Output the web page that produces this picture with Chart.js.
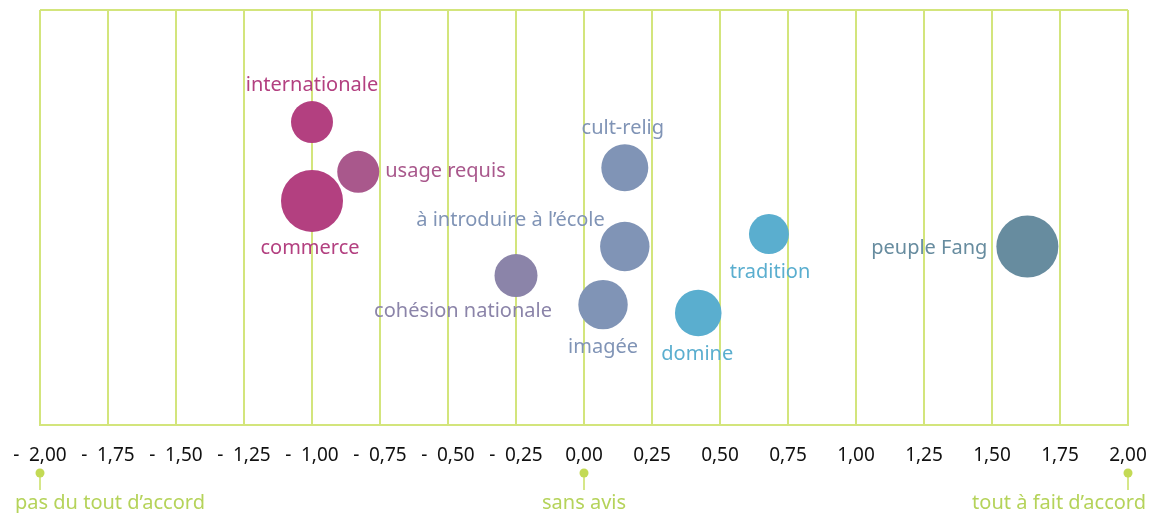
<!DOCTYPE html>
<html lang="fr">
<head>
<meta charset="utf-8">
<title>Attitudes envers la langue</title>
<script src="https://cdn.jsdelivr.net/npm/chart.js@4.4.1/dist/chart.umd.min.js"></script>
<style>
  html, body { margin: 0; padding: 0; background: #fff; }
  #wrap { width: 1159px; height: 513px; position: relative; }
</style>
</head>
<body>
<div id="wrap"><canvas id="bulles"></canvas></div>
<script>
// données
const categories = ['internationale', 'usage requis', 'commerce', 'cohésion nationale', 'cult-relig',
  'à introduire à l’école', 'imagée', 'domine', 'tradition', 'peuple Fang'];
const accord = [-1.00, -0.83, -1.00, -0.25, 0.15, 0.15, 0.07, 0.42, 0.68, 1.63];
const niveau = [73, 61, 54, 36, 62, 43, 29, 27, 46, 43];
const poids = [21, 21, 31, 21.5, 23.5, 24.7, 24.7, 23.3, 20, 31];

const reperesValeurs = [-2, 0, 2];
const reperesTextes = ['pas du tout d’accord', 'sans avis', 'tout à fait d’accord'];

// couleurs par bulle
const couleurs = ['#b34080', '#a9588c', '#b34080', '#8b84a9', '#8094b6',
  '#8094b6', '#8094b6', '#5aaecf', '#5aaecf', '#678c9f'];

// position des étiquettes par rapport au centre de la bulle : [dx, dy, alignement]
const placement = [
  [0, -37, 'center'], [27, -1, 'left'], [-2, 47, 'center'], [-53, 36, 'center'], [-2, -39, 'center'],
  [-20, -26, 'right'], [0, 43, 'center'], [-1, 41, 'center'], [1, 38, 'center'], [-40, 2, 'right']
];
const policeTexte = '"Noto Sans", sans-serif';
const vert = '#d3e57c';

function formatTick(v) {
  const s = Math.abs(v).toFixed(2).replace('.', ',');
  return v < 0 ? '-\u2002' + s : s;
}

const points = categories.map((c, i) => ({ x: accord[i], y: niveau[i], r: poids[i] }));

// étiquettes des bulles
const etiquettes = {
  id: 'etiquettes',
  afterDatasetsDraw(chart) {
    const ctx = chart.ctx;
    const meta = chart.getDatasetMeta(0);
    ctx.save();
    ctx.font = '20px ' + policeTexte;
    ctx.textBaseline = 'middle';
    meta.data.forEach((el, i) => {
      const p = placement[i];
      ctx.fillStyle = couleurs[i];
      ctx.textAlign = p[2];
      ctx.fillText(categories[i], el.x + p[0], el.y + p[1]);
    });
    ctx.restore();
  }
};

// repères sous l'axe
const reperes = {
  id: 'reperes',
  afterDraw(chart) {
    const ctx = chart.ctx;
    const sx = chart.scales.x;
    ctx.save();
    ctx.font = '20px ' + policeTexte;
    ctx.textBaseline = 'middle';
    reperesValeurs.forEach((v, i) => {
      const x = sx.getPixelForValue(v);
      ctx.strokeStyle = '#c9df62';
      ctx.lineWidth = 1.5;
      ctx.beginPath();
      ctx.moveTo(x, 473);
      ctx.lineTo(x, 490);
      ctx.stroke();
      ctx.fillStyle = '#c3da55';
      ctx.beginPath();
      ctx.arc(x, 473, 4.5, 0, Math.PI * 2);
      ctx.fill();
      ctx.fillStyle = '#b5d35a';
      if (i === 0) {
        ctx.textAlign = 'left';
        ctx.fillText(reperesTextes[i], x - 25, 503);
      } else if (i === reperesValeurs.length - 1) {
        ctx.textAlign = 'right';
        ctx.fillText(reperesTextes[i], x + 18, 503);
      } else {
        ctx.textAlign = 'center';
        ctx.fillText(reperesTextes[i], x, 503);
      }
    });
    ctx.restore();
  }
};

new Chart(document.getElementById('bulles'), {
  type: 'bubble',
  data: {
    datasets: [{
      data: points,
      backgroundColor: couleurs,
      hoverBackgroundColor: couleurs,
      borderWidth: 0,
      hoverBorderWidth: 0
    }]
  },
  options: {
    responsive: true,
    maintainAspectRatio: false,
    animation: false,
    layout: { autoPadding: false, padding: { left: 40, right: 31, top: 10, bottom: 0 } },
    plugins: {
      legend: { display: false },
      tooltip: { enabled: false }
    },
    scales: {
      x: {
        type: 'linear',
        min: -2,
        max: 2,
        afterFit(scale) {
          scale.height = 88;
          // les libellés extrêmes débordent dans la marge
          scale.paddingLeft = 0;
          scale.paddingRight = 0;
        },
        grid: { color: vert, lineWidth: 2, drawTicks: false },
        border: { color: vert, width: 2 },
        ticks: {
          stepSize: 0.25,
          padding: 19,
          color: '#111',
          font: { family: policeTexte, size: 19 },
          callback: formatTick
        }
      },
      y: {
        min: 0,
        max: 100,
        afterFit(scale) { scale.width = 0; },
        grid: { color: vert, lineWidth: 2, drawTicks: false },
        border: { display: false },
        ticks: { display: false, stepSize: 100 }
      }
    }
  },
  plugins: [etiquettes, reperes]
});
</script>
</body>
</html>
